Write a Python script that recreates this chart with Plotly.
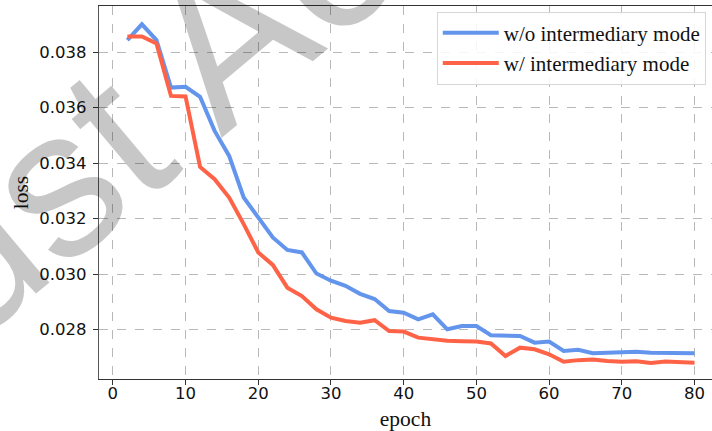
import plotly.graph_objects as go

epochs = list(range(2, 81, 2))
loss_wo = [0.03843, 0.03900, 0.03843, 0.03672, 0.03675, 0.03639, 0.03516, 0.03426,
           0.03276, 0.03205, 0.03132, 0.03087, 0.03078, 0.03002, 0.02976, 0.02958,
           0.02929, 0.02910, 0.02867, 0.02861, 0.02837, 0.02855, 0.02801, 0.02813,
           0.02813, 0.02780, 0.02780, 0.02777, 0.02753, 0.02757, 0.02723, 0.02727,
           0.02715, 0.02717, 0.02720, 0.02720, 0.02717, 0.02717, 0.02715, 0.02715]
loss_w = [0.03856, 0.03856, 0.03831, 0.03642, 0.03640, 0.03386, 0.03342, 0.03276,
          0.03180, 0.03078, 0.03033, 0.02951, 0.02921, 0.02873, 0.02843, 0.02831,
          0.02825, 0.02834, 0.02795, 0.02793, 0.02771, 0.02765, 0.02760, 0.02758,
          0.02757, 0.02750, 0.02705, 0.02735, 0.02729, 0.02711, 0.02684, 0.02690,
          0.02692, 0.02687, 0.02684, 0.02686, 0.02680, 0.02685, 0.02682, 0.02681]
x_ticks = [0, 10, 20, 30, 40, 50, 60, 70, 80]
y_ticks = [0.028, 0.030, 0.032, 0.034, 0.036, 0.038]
series_names = ["w/o intermediary mode", "w/ intermediary mode"]
watermark = "Just Accepted"

fig = go.Figure()
fig.add_trace(go.Scatter(x=epochs, y=loss_wo, mode="lines", name=series_names[0],
                         legendgroup="a",
                         line=dict(color="#6495ED", width=4)))
fig.add_trace(go.Scatter(x=epochs, y=loss_w, mode="lines", name=series_names[1],
                         legendgroup="b",
                         line=dict(color="#FF6347", width=4)))

tick_font = dict(family="DejaVu Sans", size=16.5, color="#111111")
title_font = dict(family="Liberation Serif", size=21.5, color="#111111")

fig.update_layout(
    width=712, height=431,
    margin=dict(l=99, r=0, t=6, b=52, autoexpand=False),
    paper_bgcolor="white", plot_bgcolor="white",
    showlegend=True,
    legend=dict(x=0.551, y=0.985, xanchor="left", yanchor="top",
                bgcolor="rgba(255,255,255,0.85)", bordercolor="#d6d6d6", borderwidth=1,
                font=dict(family="Liberation Serif", size=21, color="#111111"),
                itemwidth=56, tracegroupgap=0, traceorder="grouped"),
    xaxis=dict(range=[-1.9, 82.4], tickvals=x_ticks, ticktext=[str(v) for v in x_ticks],
               showgrid=True, gridcolor="#b8b8b8", griddash="dash", gridwidth=1,
               showline=True, linecolor="#333333", linewidth=1.3, mirror=True,
               ticks="outside", ticklen=5, tickcolor="#333333", tickwidth=1.2,
               ticklabelstandoff=-6,
               tickfont=tick_font, zeroline=False, automargin=False,
               title=dict(text="epoch", font=title_font, standoff=8)),
    yaxis=dict(range=[0.02622, 0.03966], tickvals=y_ticks,
               ticktext=["%.3f" % v for v in y_ticks],
               showgrid=True, gridcolor="#b8b8b8", griddash="dash", gridwidth=1,
               showline=True, linecolor="#555555", linewidth=1.3, mirror=False,
               ticks="outside", ticklen=5, tickcolor="#333333", tickwidth=1.2,
               ticklabelstandoff=3,
               tickfont=tick_font, zeroline=False, automargin=False,
               title=dict(text="loss", font=title_font, standoff=4)),
)

fig.add_annotation(text=watermark, xref="paper", yref="paper", x=0.40, y=1.175,
                   xanchor="center", yanchor="middle", showarrow=False, textangle=-40,
                   font=dict(family="Liberation Sans", size=210, color="rgba(0,0,0,0.22)"))

fig.write_html("out.html", config={"displayModeBar": False},
               post_script="document.body.style.margin='0px';document.body.style.overflow='hidden';")
